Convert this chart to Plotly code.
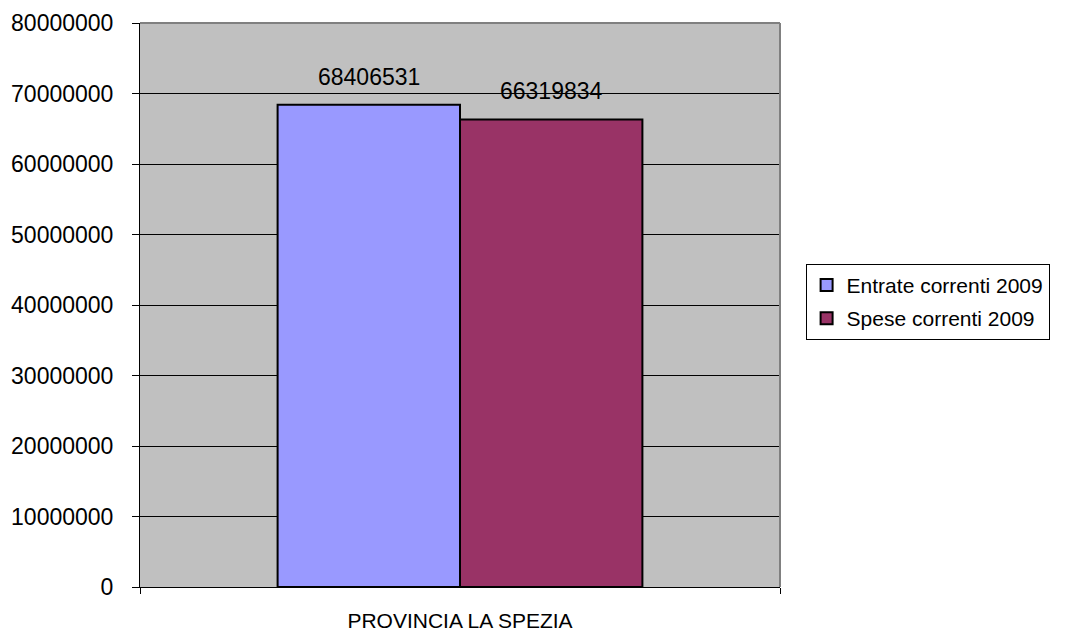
import plotly.graph_objects as go

categories = ["PROVINCIA LA SPEZIA"]
series_names = ["Entrate correnti 2009", "Spese correnti 2009"]
entrate = [68406531]
spese = [66319834]
colors = ["#9999FF", "#993366"]
tick_vals = [0, 10000000, 20000000, 30000000, 40000000, 50000000, 60000000, 70000000, 80000000]
tick_text = [str(v) for v in tick_vals]

font = dict(family="Liberation Sans, Arial, sans-serif", size=21, color="black")
numfont = dict(family="Liberation Sans, Arial, sans-serif", size=23, color="black")

BARGAP = 0.43
bar_w = (1 - BARGAP) / 2

fig = go.Figure()
for i, (name, vals, col) in enumerate(zip(series_names, [entrate, spese], colors)):
    fig.add_trace(go.Bar(
        x=categories, y=vals, name=name, legendgroup=f"g{i}",
        marker=dict(color=col, line=dict(color="black", width=2)),
    ))
    for j, v in enumerate(vals):
        fig.add_annotation(x=j + (i - 0.5) * bar_w, y=v, text=str(v),
                           showarrow=False, yanchor="bottom", yshift=13,
                           font=numfont)

fig.update_layout(
    width=1072, height=637,
    margin=dict(l=132, r=300, t=15, b=58, autoexpand=False),
    paper_bgcolor="white", plot_bgcolor="#C0C0C0",
    barmode="group", bargap=BARGAP, bargroupgap=0,
    font=font, showlegend=True,
    legend=dict(x=1.04, y=0.573, xanchor="left", yanchor="top",
                bordercolor="black", borderwidth=1, bgcolor="white",
                font=font, itemwidth=30, tracegroupgap=3,
                entrywidth=250, entrywidthmode="pixels"),
)
fig.update_xaxes(type="category", tickson="boundaries", ticks="outside", ticklen=6,
                 tickcolor="black", showline=True, linecolor="black", linewidth=1,
                 mirror=False, showgrid=False, tickfont=font, ticklabelstandoff=15,
                 automargin=False)
fig.update_yaxes(range=[0, 80000000], tickvals=tick_vals, ticktext=tick_text,
                 ticks="outside", ticklen=7, tickcolor="black",
                 showline=True, linecolor="black", linewidth=1,
                 showgrid=True, gridcolor="black", gridwidth=1,
                 zeroline=False, tickfont=numfont, ticklabelstandoff=14,
                 automargin=False)
# plot area border (top/right in gray)
fig.add_shape(type="line", xref="paper", yref="paper", x0=0, x1=1, y0=1, y1=1,
              line=dict(color="#808080", width=2))
fig.add_shape(type="line", xref="paper", yref="paper", x0=1, x1=1, y0=0, y1=1,
              line=dict(color="#808080", width=2))

fig.write_html("out.html")
